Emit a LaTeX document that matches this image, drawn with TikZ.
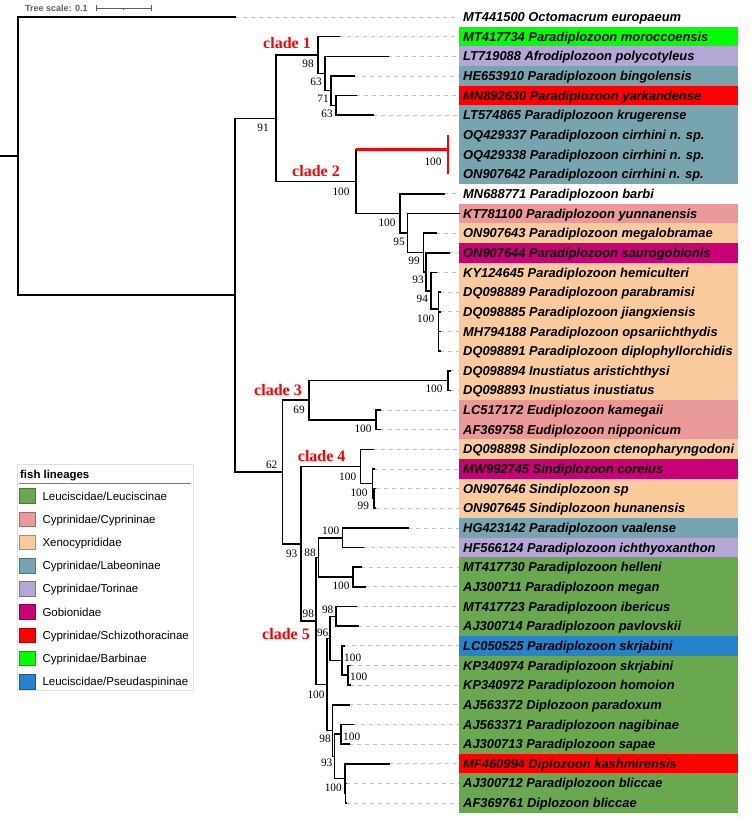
\documentclass[tikz,border=0pt]{standalone}
\usepackage{fontspec}
\setmainfont{Liberation Serif}
\setsansfont{Liberation Sans}
\definecolor{leuc}{RGB}{106,168,79}
\definecolor{cypr}{RGB}{234,153,153}
\definecolor{xeno}{RGB}{249,203,156}
\definecolor{labe}{RGB}{118,165,175}
\definecolor{tori}{RGB}{180,167,214}
\definecolor{gobi}{RGB}{201,0,118}
\definecolor{schi}{RGB}{255,0,0}
\definecolor{barb}{RGB}{0,255,0}
\definecolor{pseu}{RGB}{39,130,204}
\definecolor{scalegray}{RGB}{95,95,95}
\tikzset{
  branch/.style={draw=black,line width=1.6pt,line cap=rect},
  redbranch/.style={draw=red,line width=2.7pt,line cap=butt},
  leader/.style={draw=black!25,line width=0.8pt,dash pattern=on 4pt off 4pt},
  rowbox/.style={rectangle,draw=none,minimum width=279pt,minimum height=19.75pt,inner sep=0pt,outer sep=0pt},
  tiplabel/.style={anchor=west,inner sep=0pt,text height=11pt,text depth=1.8pt,font=\sffamily\bfseries\itshape\fontsize{12.9}{14}\selectfont},
  boot/.style={inner sep=0pt,font=\fontsize{11.3}{12}\selectfont},
  cladelab/.style={inner sep=0pt,text=red,font=\bfseries\fontsize{16}{18}\selectfont},
  swatch/.style={rectangle,minimum width=16pt,minimum height=14.7pt,inner sep=0pt,line width=0.6pt},
  legtext/.style={anchor=west,inner sep=0pt,text height=8.2pt,text depth=0pt,font=\sffamily\fontsize{11.5}{13}\selectfont},
}
\newcommand\tiprow[5]{%
  \coordinate (e#1) at (#3,#2);
  \node[rowbox,fill=#4] (r#1) at (598.5,#2) {};
  \node[tiplabel] (t#1) at (463,#2) {#5};
}
\begin{document}
\begin{tikzpicture}[x=1pt,y=-1pt]
\useasboundingbox[fill=white] (0,0) rectangle (753,819);
% ---------- tip rows ----------
\tiprow{1}{17.00}{235}{none}{MT441500 Octomacrum europaeum}
\tiprow{2}{36.65}{339}{barb}{MT417734 Paradiplozoon moroccoensis}
\tiprow{3}{56.30}{388}{tori}{LT719088 Afrodiplozoon polycotyleus}
\tiprow{4}{75.95}{354}{labe}{HE653910 Paradiplozoon bingolensis}
\tiprow{5}{95.60}{356}{schi}{MN892630 Paradiplozoon yarkandense}
\tiprow{6}{115.25}{373}{labe}{LT574865 Paradiplozoon krugerense}
\tiprow{7}{134.90}{448}{labe}{OQ429337 Paradiplozoon cirrhini n. sp.}
\tiprow{8}{154.55}{448}{labe}{OQ429338 Paradiplozoon cirrhini n. sp.}
\tiprow{9}{174.20}{448}{labe}{ON907642 Paradiplozoon cirrhini n. sp.}
\tiprow{10}{193.85}{444}{none}{MN688771 Paradiplozoon barbi}
\tiprow{11}{213.50}{459}{cypr}{KT781100 Paradiplozoon yunnanensis}
\tiprow{12}{233.15}{436}{xeno}{ON907643 Paradiplozoon megalobramae}
\tiprow{13}{252.80}{449}{gobi}{ON907644 Paradiplozoon saurogobionis}
\tiprow{14}{272.45}{436}{xeno}{KY124645 Paradiplozoon hemiculteri}
\tiprow{15}{292.10}{440}{xeno}{DQ098889 Paradiplozoon parabramisi}
\tiprow{16}{311.75}{440}{xeno}{DQ098885 Paradiplozoon jiangxiensis}
\tiprow{17}{331.40}{440}{xeno}{MH794188 Paradiplozoon opsariichthydis}
\tiprow{18}{351.05}{440}{xeno}{DQ098891 Paradiplozoon diplophyllorchidis}
\tiprow{19}{370.70}{450}{xeno}{DQ098894 Inustiatus aristichthysi}
\tiprow{20}{390.35}{450}{xeno}{DQ098893 Inustiatus inustiatus}
\tiprow{21}{410.00}{380}{cypr}{LC517172 Eudiplozoon kamegaii}
\tiprow{22}{429.65}{380}{cypr}{AF369758 Eudiplozoon nipponicum}
\tiprow{23}{449.30}{372.7}{xeno}{DQ098898 Sindiplozoon ctenopharyngodoni}
\tiprow{24}{468.95}{374}{gobi}{MW992745 Sindiplozoon coreius}
\tiprow{25}{488.60}{375.5}{xeno}{ON907646 Sindiplozoon sp}
\tiprow{26}{508.25}{375.5}{xeno}{ON907645 Sindiplozoon hunanensis}
\tiprow{27}{527.90}{408}{labe}{HG423142 Paradiplozoon vaalense}
\tiprow{28}{547.55}{363.3}{tori}{HF566124 Paradiplozoon ichthyoxanthon}
\tiprow{29}{567.20}{361}{leuc}{MT417730 Paradiplozoon helleni}
\tiprow{30}{586.85}{364.7}{leuc}{AJ300711 Paradiplozoon megan}
\tiprow{31}{606.50}{356}{leuc}{MT417723 Paradiplozoon ibericus}
\tiprow{32}{626.15}{358}{leuc}{AJ300714 Paradiplozoon pavlovskii}
\tiprow{33}{645.80}{344}{pseu}{LC050525 Paradiplozoon skrjabini}
\tiprow{34}{665.45}{350}{leuc}{KP340974 Paradiplozoon skrjabini}
\tiprow{35}{685.10}{350}{leuc}{KP340972 Paradiplozoon homoion}
\tiprow{36}{704.75}{349}{leuc}{AJ563372 Diplozoon paradoxum}
\tiprow{37}{724.40}{353.3}{leuc}{AJ563371 Paradiplozoon nagibinae}
\tiprow{38}{744.05}{349.3}{leuc}{AJ300713 Paradiplozoon sapae}
\tiprow{39}{763.70}{389.3}{schi}{MF460994 Diplozoon kashmirensis}
\tiprow{40}{783.35}{346}{leuc}{AJ300712 Paradiplozoon bliccae}
\tiprow{41}{803.00}{346}{leuc}{AF369761 Diplozoon bliccae}
% ---------- dashed leaders ----------
\foreach \i in {1,2,3,4,5,6,10,12,13,14,15,16,17,18,19,20,21,22,23,24,25,26,27,28,29,30,31,32,33,34,35,36,37,38,39,40,41}
  \draw[leader] (e\i) -- (r\i.west);
% ---------- internal nodes ----------
\coordinate (rs) at (0,156.06);
\coordinate (root) at (18,156.06);
\coordinate (nA) at (235,295.13);
\coordinate (nB) at (276,118.3);
\coordinate (c1) at (318,55.07);
\coordinate (n325) at (325,73.49);
\coordinate (n331) at (331,90.69);
\coordinate (n336) at (336,105.43);
\coordinate (c2) at (356,181.53);
\coordinate (red) at (448,149.64);
\coordinate (n400) at (400,213.42);
\coordinate (n407) at (407.3,233.0);
\coordinate (n423) at (423.3,252.49);
\coordinate (n426) at (425.7,271.84);
\coordinate (n431) at (430.7,290.87);
\coordinate (n438) at (438.3,309.29);
\coordinate (n62) at (282.3,471.95);
\coordinate (c3) at (309,400.18);
\coordinate (n448) at (448,380.53);
\coordinate (n376) at (376,419.83);
\coordinate (n93) at (300.7,543.72);
\coordinate (c4) at (360.5,466.5);
\coordinate (n372) at (372.5,483.69);
\coordinate (n374) at (373.8,498.43);
\coordinate (n98a) at (316,620.93);
\coordinate (n88) at (318.3,557.38);
\coordinate (n342) at (342.3,537.73);
\coordinate (n353) at (353,577.03);
\coordinate (n100b) at (326.7,684.49);
\coordinate (n96) at (330,638.43);
\coordinate (n336b) at (336,616.33);
\coordinate (n342b) at (342,660.54);
\coordinate (n348) at (347.7,675.28);
\coordinate (nX) at (332.3,730.54);
\coordinate (nY) at (334.3,756.33);
\coordinate (nZ) at (340.7,734.23);
\coordinate (nW) at (345,778.44);
\coordinate (nW2) at (345.5,793.18);
% ---------- branches ----------
\draw[branch] (rs) -- (root);
\draw[branch] (root) |- (e1);
\draw[branch] (root) |- (nA);
\draw[branch] (nA) |- (nB);
\draw[branch] (nA) |- (n62);
\draw[branch] (nB) |- (c1);
\draw[branch] (nB) |- (c2);
\draw[branch] (c1) |- (e2);
\draw[branch] (c1) |- (n325);
\draw[branch] (n325) |- (e3);
\draw[branch] (n325) |- (n331);
\draw[branch] (n331) |- (e4);
\draw[branch] (n331) |- (n336);
\draw[branch] (n336) |- (e5);
\draw[branch] (n336) |- (e6);
\draw[branch] (c2) -- (c2 |- red);
\draw[branch] (c2) |- (n400);
\draw[redbranch] (c2 |- red) -- (red);
\draw[redbranch] (e7) -- (e9);
\draw[branch] (n400) |- (e10);
\draw[branch] (n400) |- (n407);
\draw[branch] (n407) |- (e11);
\draw[branch] (n407) |- (n423);
\draw[branch] (n423) |- (e12);
\draw[branch] (n423) |- (n426);
\draw[branch] (n426) |- (e13);
\draw[branch] (n426) |- (n431);
\draw[branch] (n431) |- (e14);
\draw[branch] (n431) |- (n438);
\foreach \i in {15,16,17,18} \draw[branch] (n438) |- (e\i);
\draw[branch] (n62) |- (c3);
\draw[branch] (n62) |- (n93);
\draw[branch] (c3) |- (n448);
\draw[branch] (c3) |- (n376);
\draw[branch] (n448) |- (e19);
\draw[branch] (n448) |- (e20);
\draw[branch] (n376) |- (e21);
\draw[branch] (n376) |- (e22);
\draw[branch] (n93) |- (c4);
\draw[branch] (n93) |- (n98a);
\draw[branch] (c4) |- (e23);
\draw[branch] (c4) |- (n372);
\draw[branch] (n372) |- (e24);
\draw[branch] (n372) |- (n374);
\draw[branch] (n374) |- (e25);
\draw[branch] (n374) |- (e26);
\draw[branch] (n98a) |- (n88);
\draw[branch] (n98a) |- (n100b);
\draw[branch] (n88) |- (n342);
\draw[branch] (n88) |- (n353);
\draw[branch] (n342) |- (e27);
\draw[branch] (n342) |- (e28);
\draw[branch] (n353) |- (e29);
\draw[branch] (n353) |- (e30);
\draw[branch] (n100b) |- (n96);
\draw[branch] (n100b) |- (nX);
\draw[branch] (n96) |- (n336b);
\draw[branch] (n96) |- (n342b);
\draw[branch] (n336b) |- (e31);
\draw[branch] (n336b) |- (e32);
\draw[branch] (n342b) |- (e33);
\draw[branch] (n342b) |- (n348);
\draw[branch] (n348) |- (e34);
\draw[branch] (n348) |- (e35);
\draw[branch] (nX) |- (e36);
\draw[branch] (nX) |- (nY);
\draw[branch] (nY) |- (nZ);
\draw[branch] (nY) |- (nW);
\draw[branch] (nZ) |- (e37);
\draw[branch] (nZ) |- (e38);
\draw[branch] (nW) |- (e39);
\draw[branch] (nW) |- (nW2);
\draw[branch] (nW2) |- (e40);
\draw[branch] (nW2) |- (e41);
% ---------- bootstrap values ----------
\node[boot] (b1) at (308,64) {98};
\node[boot] (b2) at (316,82) {63};
\node[boot] (b3) at (323,99) {71};
\node[boot] (b4) at (327,114) {63};
\node[boot] (b5) at (263,128) {91};
\node[boot] (b6) at (433,162) {100};
\node[boot] (b7) at (341,192) {100};
\node[boot] (b8) at (387,223) {100};
\node[boot] (b9) at (399,242) {95};
\node[boot] (b10) at (414,261) {99};
\node[boot] (b11) at (418,280) {93};
\node[boot] (b12) at (422.3,299.3) {94};
\node[boot] (b13) at (425.7,318.3) {100};
\node[boot] (b14) at (271.7,465) {62};
\node[boot] (b15) at (299,410) {69};
\node[boot] (b16) at (434,389) {100};
\node[boot] (b17) at (363,429) {100};
\node[boot] (b18) at (347.7,476.7) {100};
\node[boot] (b19) at (359,492.3) {100};
\node[boot] (b20) at (363.3,505.7) {99};
\node[boot] (b21) at (291.7,554.3) {93};
\node[boot] (b22) at (310,552.3) {88};
\node[boot] (b23) at (330.7,531) {100};
\node[boot] (b24) at (341,586) {100};
\node[boot] (b25) at (308.3,614) {98};
\node[boot] (b26) at (327.7,610) {98};
\node[boot] (b27) at (322.7,633.3) {96};
\node[boot] (b28) at (352.7,657.7) {100};
\node[boot] (b29) at (358.7,676.7) {100};
\node[boot] (b30) at (316,694.3) {100};
\node[boot] (b31) at (325,739) {98};
\node[boot] (b32) at (351.7,736.7) {100};
\node[boot] (b33) at (326.7,763) {93};
\node[boot] (b34) at (333.3,787.7) {100};
% ---------- clade labels ----------
\node[cladelab] (cl1) at (287,43) {clade 1};
\node[cladelab] (cl2) at (316,171) {clade 2};
\node[cladelab] (cl3) at (278,390) {clade 3};
\node[cladelab] (cl4) at (321.7,455.7) {clade 4};
\node[cladelab] (cl5) at (286,634.3) {clade 5};
% ---------- tree scale ----------
\node[anchor=west,inner sep=0pt,text=scalegray,font=\sffamily\bfseries\fontsize{9}{10}\selectfont,text height=6.5pt,text depth=0pt] (tsl) at (25,8) {Tree scale: 0.1};
\coordinate (sb1) at (96,8);
\coordinate (sb2) at (151,8);
\coordinate (sbm) at (123.5,8);
\draw[scalegray,line width=0.8pt] (sb1) -- (sb2);
\draw[scalegray,line width=0.8pt] ([yshift=-3pt]sb1) -- ([yshift=3pt]sb1);
\draw[scalegray,line width=0.8pt] ([yshift=-3pt]sb2) -- ([yshift=3pt]sb2);
\draw[scalegray,line width=0.6pt] ([yshift=-1.5pt]sbm) -- ([yshift=0pt]sbm);
% ---------- legend ----------
\node[draw=black!12,fill=white,line width=0.8pt,minimum width=176pt,minimum height=226pt,inner sep=0pt] (leg) at (105,577) {};
\node[anchor=west,inner sep=0pt,text height=8.2pt,text depth=0pt,font=\sffamily\bfseries\fontsize{11.4}{13}\selectfont] (legt) at (20,474) {fish lineages};
\coordinate (lr1) at (19,483.5);
\coordinate (lr2) at (191,483.5);
\draw[black!50,line width=0.8pt] (lr1) -- (lr2);
\foreach \c/\t [count=\k from 0] in {leuc/Leuciscidae\slash Leuciscinae,cypr/Cyprinidae\slash Cyprininae,xeno/Xenocyprididae,labe/Cyprinidae\slash Labeoninae,tori/Cyprinidae\slash Torinae,gobi/Gobionidae,schi/Cyprinidae\slash Schizothoracinae,barb/Cyprinidae\slash Barbinae,pseu/Leuciscidae\slash Pseudaspininae}{
  \node[swatch,fill=\c,draw=\c!70!black] (sw\k) at (27,496+\k*23.2) {};
  \node[legtext] (lt\k) at (42.3,496+\k*23.2) {\t};
}
\end{tikzpicture}
\end{document}
